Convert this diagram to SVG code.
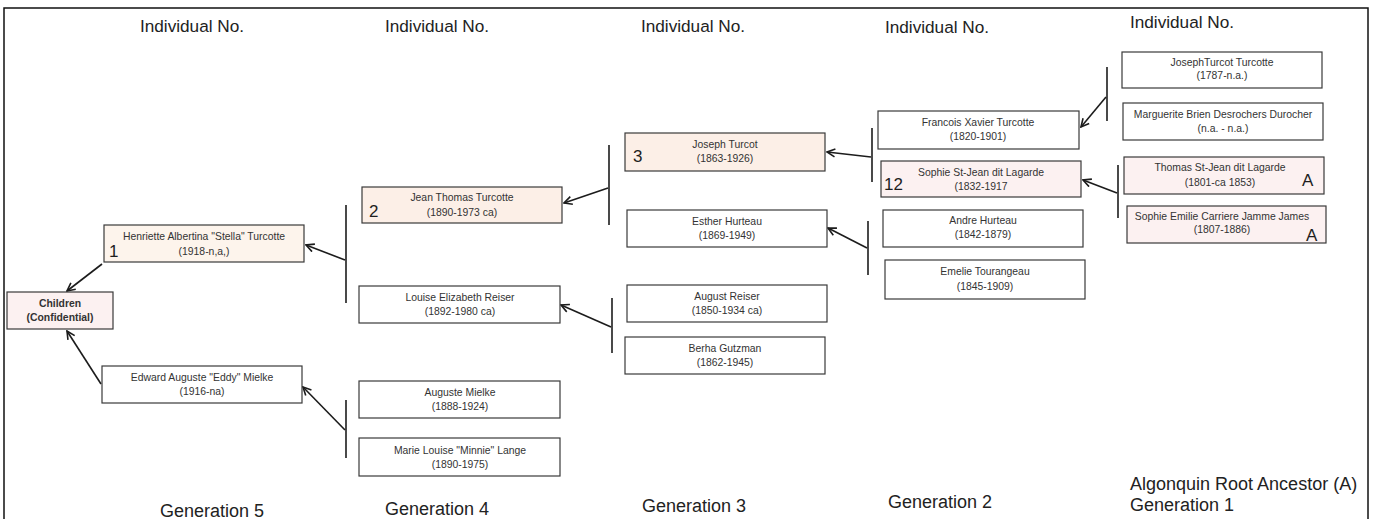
<svg xmlns="http://www.w3.org/2000/svg" width="1374" height="519" viewBox="0 0 1374 519">
<style>
.node rect{stroke:#3a3a3a;stroke-width:1.2;fill:#ffffff}
.beige rect{fill:#fdf4ec}
.peach rect{fill:#fcefe7}
.pink rect{fill:#fcf1f1}
.t{font-family:"Liberation Sans",Arial,sans-serif;font-size:10.4px;fill:#333333;text-anchor:middle}
.b{font-weight:bold;font-size:10.4px}
.num{font-family:"Liberation Sans",Arial,sans-serif;font-size:17px;fill:#1e1e1e}
.hdr{font-family:"Liberation Sans",Arial,sans-serif;font-size:17.2px;fill:#222;text-anchor:middle}
.gen{font-size:18px}
.lft{text-anchor:start}
#connectors line{stroke:#1c1c1c;stroke-width:1.6}
#connectors .arrow{marker-end:url(#arr)}
</style>
<defs>
<marker id="arr" viewBox="0 0 10 10" refX="9" refY="5" markerWidth="10" markerHeight="10" orient="auto" markerUnits="userSpaceOnUse">
<path d="M1,1 L9,5 L1,9" fill="none" stroke="#1c1c1c" stroke-width="1.6"/>
</marker>
</defs>
<rect x="0" y="0" width="1374" height="519" fill="#ffffff"/>
<rect x="4" y="8" width="1364" height="530" fill="none" stroke="#111" stroke-width="1.5"/>

<g id="headers">
<text class="hdr" x="192" y="32">Individual No.</text>
<text class="hdr" x="437" y="32">Individual No.</text>
<text class="hdr" x="693" y="32">Individual No.</text>
<text class="hdr" x="937" y="33">Individual No.</text>
<text class="hdr" x="1182" y="28">Individual No.</text>
<text class="hdr gen" x="212" y="517">Generation 5</text>
<text class="hdr gen" x="437" y="515">Generation 4</text>
<text class="hdr gen" x="694" y="512">Generation 3</text>
<text class="hdr gen" x="940" y="508">Generation 2</text>
<text class="hdr gen lft" x="1130" y="490">Algonquin Root Ancestor (A)</text>
<text class="hdr gen lft" x="1130" y="511">Generation 1</text>
</g>

<g id="connectors">
<line class="arrow" x1="102" y1="264" x2="67" y2="291"/>
<line class="arrow" x1="101" y1="384" x2="67" y2="331"/>
<line x1="346" y1="205" x2="346" y2="303"/>
<line class="arrow" x1="345" y1="260" x2="306" y2="245"/>
<line x1="346" y1="400" x2="346" y2="458"/>
<line class="arrow" x1="345" y1="430" x2="303" y2="387"/>
<line x1="609" y1="145" x2="609" y2="225"/>
<line class="arrow" x1="608" y1="188" x2="564" y2="203"/>
<line x1="612" y1="298" x2="612" y2="353"/>
<line class="arrow" x1="611" y1="327" x2="561" y2="305"/>
<line x1="872" y1="128" x2="872" y2="182"/>
<line class="arrow" x1="871" y1="157" x2="827" y2="152"/>
<line x1="868" y1="221" x2="868" y2="275"/>
<line class="arrow" x1="867" y1="248" x2="828" y2="228"/>
<line x1="1107" y1="67" x2="1107" y2="121"/>
<line class="arrow" x1="1106" y1="97" x2="1081" y2="127"/>
<line x1="1118" y1="165" x2="1118" y2="218"/>
<line class="arrow" x1="1117" y1="193" x2="1083" y2="180"/>
</g>

<g id="children" class="node pink">
<rect x="7" y="292" width="106" height="37"/>
<text class="t b" x="60" y="307">Children</text>
<text class="t b" x="60" y="321">(Confidential)</text>
</g>
<g id="henriette" class="node beige">
<rect x="104" y="225" width="200" height="37"/>
<text class="t" x="204" y="240">Henriette Albertina "Stella" Turcotte</text>
<text class="t" x="204" y="255">(1918-n,a,)</text>
<text class="num" x="109" y="257">1</text>
</g>
<g id="edward" class="node">
<rect x="102" y="366" width="200" height="37"/>
<text class="t" x="202" y="381">Edward Auguste "Eddy" Mielke</text>
<text class="t" x="202" y="395">(1916-na)</text>
</g>
<g id="jean" class="node peach">
<rect x="362" y="187" width="200" height="36"/>
<text class="t" x="462" y="201">Jean Thomas Turcotte</text>
<text class="t" x="462" y="216">(1890-1973 ca)</text>
<text class="num" x="369" y="217">2</text>
</g>
<g id="louise" class="node">
<rect x="359" y="286" width="201" height="37"/>
<text class="t" x="460" y="301">Louise Elizabeth Reiser</text>
<text class="t" x="460" y="315">(1892-1980 ca)</text>
</g>
<g id="auguste" class="node">
<rect x="359" y="381" width="201" height="37"/>
<text class="t" x="460" y="396">Auguste Mielke</text>
<text class="t" x="460" y="410">(1888-1924)</text>
</g>
<g id="marie" class="node">
<rect x="359" y="438" width="201" height="38"/>
<text class="t" x="460" y="454">Marie Louise "Minnie" Lange</text>
<text class="t" x="460" y="468">(1890-1975)</text>
</g>
<g id="joseph" class="node peach">
<rect x="625" y="133" width="200" height="38"/>
<text class="t" x="725" y="148">Joseph Turcot</text>
<text class="t" x="725" y="162">(1863-1926)</text>
<text class="num" x="633" y="162">3</text>
</g>
<g id="esther" class="node">
<rect x="627" y="210" width="200" height="37"/>
<text class="t" x="727" y="225">Esther Hurteau</text>
<text class="t" x="727" y="239">(1869-1949)</text>
</g>
<g id="august" class="node">
<rect x="627" y="285" width="200" height="37"/>
<text class="t" x="727" y="300">August Reiser</text>
<text class="t" x="727" y="314">(1850-1934 ca)</text>
</g>
<g id="berha" class="node">
<rect x="625" y="337" width="200" height="37"/>
<text class="t" x="725" y="352">Berha Gutzman</text>
<text class="t" x="725" y="366">(1862-1945)</text>
</g>
<g id="francois" class="node">
<rect x="878" y="111" width="201" height="38"/>
<text class="t" x="978" y="126">Francois Xavier Turcotte</text>
<text class="t" x="978" y="140">(1820-1901)</text>
</g>
<g id="sophie-stjean" class="node pink">
<rect x="881" y="161" width="200" height="36"/>
<text class="t" x="981" y="176">Sophie St-Jean dit Lagarde</text>
<text class="t" x="981" y="190">(1832-1917</text>
<text class="num" x="884" y="190">12</text>
</g>
<g id="andre" class="node">
<rect x="883" y="210" width="200" height="37"/>
<text class="t" x="983" y="224">Andre Hurteau</text>
<text class="t" x="983" y="238">(1842-1879)</text>
</g>
<g id="emelie" class="node">
<rect x="885" y="260" width="200" height="39"/>
<text class="t" x="985" y="275">Emelie Tourangeau</text>
<text class="t" x="985" y="290">(1845-1909)</text>
</g>
<g id="joseph-turcot-turcotte" class="node">
<rect x="1122" y="52" width="200" height="36"/>
<text class="t" x="1222" y="66">JosephTurcot Turcotte</text>
<text class="t" x="1222" y="79">(1787-n.a.)</text>
</g>
<g id="marguerite" class="node">
<rect x="1123" y="103" width="200" height="37"/>
<text class="t" x="1223" y="118">Marguerite Brien Desrochers Durocher</text>
<text class="t" x="1223" y="132">(n.a. - n.a.)</text>
</g>
<g id="thomas" class="node pink">
<rect x="1124" y="157" width="200" height="37"/>
<text class="t" x="1220" y="171">Thomas St-Jean dit Lagarde</text>
<text class="t" x="1220" y="186">(1801-ca 1853)</text>
<text class="num" x="1302" y="186">A</text>
</g>
<g id="sophie-emilie" class="node pink">
<rect x="1127" y="206" width="199" height="37"/>
<text class="t" x="1222" y="220">Sophie Emilie Carriere Jamme James</text>
<text class="t" x="1222" y="233">(1807-1886)</text>
<text class="num" x="1306" y="241">A</text>
</g>
</svg>
